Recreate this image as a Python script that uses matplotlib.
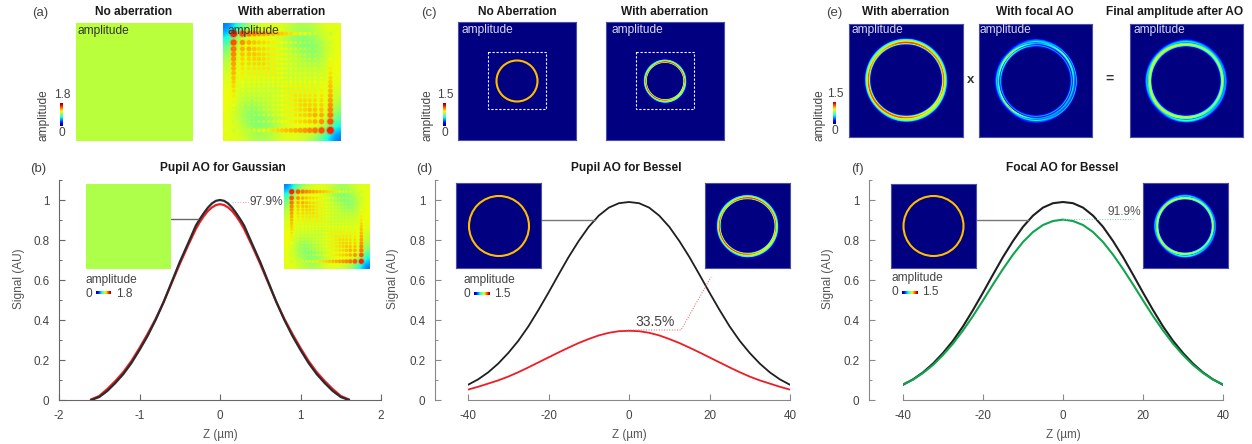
import numpy as np
import matplotlib
matplotlib.use("Agg")
import matplotlib.pyplot as plt
from matplotlib.patches import Circle, Rectangle

plt.rcParams['font.family'] = ['Liberation Sans', 'DejaVu Sans']

W, H = 1252, 444

# Curves for z >= 0, the other side is the mirror
z_gauss = [0, .05, .1, .15, .2, .25, .3, .4, .5, .6, .7, .8, .9, 1, 1.1, 1.2, 1.3, 1.4, 1.5, 1.6]
gauss_black = [1.0, .996, .983, .962, .935, .905, .872, .78, .69, .59, .49, .40, .32, .25, .185, .13, .085, .045, .015, 0]
gauss_red = [.979, .975, .963, .945, .92, .89, .855, .77, .68, .585, .49, .405, .33, .26, .195, .14, .095, .055, .02, .003]

z_bessel = [0, 2.5, 5, 7.5, 10, 12.5, 15, 17.5, 20, 22.5, 25, 27.5, 30, 32.5, 35, 37.5, 40]
bessel_black = [.99, .984, .962, .922, .866, .795, .715, .627, .537, .450, .368, .296, .235, .182, .138, .103, .076]
bessel_red = [.346, .344, .336, .323, .305, .285, .262, .238, .213, .188, .163, .139, .117, .098, .082, .066, .052]
bessel_green = [.902, .895, .875, .84, .79, .727, .655, .578, .498, .42, .348, .282, .225, .175, .135, .102, .078]

# Pupil amplitude with aberration, coarse map
pupil_base = [
    [.42, .75, 1.0, 1.08, 1.12, 1.12, 1.04, 1.0, 1.04, 1.12, 1.12],
    [.70, 1.12, 1.16, 1.16, 1.14, 1.06, .92, .88, .95, 1.08, 1.14],
    [.90, 1.16, 1.10, 1.09, 1.09, 1.08, 1.02, .92, .90, 1.04, 1.14],
    [1.02, 1.16, 1.09, 1.07, 1.07, 1.07, 1.07, 1.02, .95, 1.06, 1.16],
    [1.08, 1.16, 1.08, 1.06, 1.06, 1.06, 1.06, 1.06, 1.07, 1.09, 1.16],
    [1.12, 1.12, 1.07, 1.06, 1.06, 1.06, 1.06, 1.06, 1.07, 1.12, 1.12],
    [1.16, 1.09, 1.07, 1.06, 1.06, 1.06, 1.06, 1.06, 1.08, 1.16, 1.08],
    [1.16, 1.06, .95, 1.02, 1.07, 1.07, 1.07, 1.07, 1.09, 1.16, 1.02],
    [1.14, 1.04, .90, .92, 1.02, 1.08, 1.09, 1.09, 1.10, 1.16, .90],
    [1.14, 1.08, .95, .88, .92, 1.06, 1.14, 1.16, 1.16, 1.12, .70],
    [1.12, 1.12, 1.04, 1.0, 1.04, 1.12, 1.12, 1.08, 1.0, .75, .42],
]
spot_pos = [.09, .165, .22, .265, .305, .345, .385, .425, .465, .5, .535, .575, .615, .655, .695, .735, .78, .835, .91]
spot_along = [1.58, 1.48, 1.42, 1.38, 1.35, 1.33, 1.31, 1.29, 1.27, 1.25, 1.23, 1.21, 1.19, 1.17, 1.15, 1.12, 1.1, 1.07, 1.05]
spot_row = [1, .92, .92, .92, .92, .92, .92, .92, .92, .92]

# Ring amplitude: rows = radial offset (px), columns = angle every 45 deg
ring_angles = [0, 45, 90, 135, 180, 225, 270, 315]
ring1_offs = [-3.5, -2.5, -1.5, -.5, .5, 1.5, 2.5, 3.5, 4.5, 5.5]
ring1 = [
    [0, 0, 0, 0, 0, 0, 0, 0],
    [.02, .02, .02, .02, .02, .02, .02, .02],
    [.3, .4, .5, .3, .4, .5, .5, .25],
    [1.0, 1.15, 1.2, 1.0, 1.1, 1.2, 1.1, .8],
    [1.25, 1.15, 1.3, 1.05, 1.25, 1.25, 1.25, 1.0],
    [.85, .82, .95, .8, .85, .95, .9, .9],
    [.72, .68, .78, .7, .7, .62, .8, .82],
    [.4, .4, .55, .45, .35, .3, .7, .65],
    [.04, .04, .12, .08, .04, .04, .3, .3],
    [0, 0, 0, 0, 0, 0, 0, 0],
]
ring2_offs = [-3, -2, -1, 0, 1, 2, 3, 4, 5, 6]
ring2 = [
    [0, 0, 0, 0, 0, 0, 0, 0],
    [.2, .2, .2, .3, .2, .2, .2, .2],
    [.5, .42, .48, .7, .5, .42, .48, .5],
    [.22, .18, .2, .42, .2, .22, .18, .22],
    [.6, .52, .48, 1.2, .62, 1.2, .48, .48],
    [.4, .9, .3, .62, .4, .62, .32, .4],
    [.22, .28, .62, .32, .55, .32, .65, .28],
    [.52, .48, .42, .18, .32, .18, .32, .55],
    [.1, .1, .38, .05, .1, .05, .32, .1],
    [0, 0, 0, 0, 0, 0, 0, 0],
]
ring3 = [
    [0, 0, 0, 0, 0, 0, 0, 0],
    [.2, .2, .2, .2, .2, .2, .2, .2],
    [.7, .55, .7, .55, .85, .55, .75, .55],
    [1.0, .8, 1.0, .9, 1.0, .85, .95, .85],
    [.7, .8, .75, 1.1, .6, 1.1, .8, .6],
    [.35, .55, .38, .65, .42, .65, .36, .48],
    [.45, .38, .6, .4, .52, .38, .7, .45],
    [.35, .28, .42, .24, .32, .24, .55, .38],
    [.06, .06, .25, .06, .06, .06, .28, .16],
    [0, 0, 0, 0, 0, 0, 0, 0],
]

fig = plt.figure(figsize=(W / 100, H / 100), dpi=100)
jet = plt.get_cmap('jet')
TXT = '#444444'
NAVY = jet(0.0)
BORDER = '#4a4fa8'
RING_COLOR = jet(.71)


def px_axes(x0, y0, x1, y1, **kw):
    return fig.add_axes([x0 / W, 1 - y1 / H, (x1 - x0) / W, (y1 - y0) / H], **kw)


def blank(ax):
    ax.set_xticks([])
    ax.set_yticks([])
    for s in ax.spines.values():
        s.set_visible(False)


def flat_image(box, value):
    ax = px_axes(*box)
    ax.imshow([[value]], cmap=jet, vmin=0, vmax=1.8, aspect='auto')
    blank(ax)
    return ax


def pupil_image(box):
    ax = px_axes(*box)
    ax.imshow(pupil_base, cmap=jet, vmin=0, vmax=1.8, aspect='auto',
              interpolation='bicubic', extent=(0, 1, 1, 0))
    blank(ax)
    scale = (box[2] - box[0]) / 118
    n = len(spot_pos)
    xs, ys, amps = [], [], []
    for i in range(n):
        for j in range(n):
            a, b = (i, j) if i + j <= n - 1 else (n - 1 - i, n - 1 - j)
            xs.append(spot_pos[j])
            ys.append(spot_pos[i])
            amps.append(spot_along[max(a, b)] * spot_row[min(a, b)])
    amps = np.array(amps)
    diam = (2.2 + np.clip(amps - 1, 0, None) * 8) * scale * .72
    ax.scatter(xs, ys, s=(diam * 1.35) ** 2, c=amps * .95, cmap=jet, vmin=0, vmax=1.8, lw=0, alpha=.35)
    ax.scatter(xs, ys, s=diam ** 2, c=amps, cmap=jet, vmin=0, vmax=1.8, lw=0)
    ax.set_xlim(0, 1)
    ax.set_ylim(1, 0)
    return ax


def dark_image(box):
    ax = px_axes(box[0], box[1], box[2], box[3])
    ax.set_facecolor(NAVY)
    ax.set_xlim(box[0], box[2])
    ax.set_ylim(box[3], box[1])
    ax.set_xticks([])
    ax.set_yticks([])
    for s in ax.spines.values():
        s.set_color(BORDER)
        s.set_linewidth(.8)
    return ax


def plain_ring(ax, cx, cy, r, lw):
    ax.add_patch(Circle((cx, cy), r, fill=False, ec=RING_COLOR, lw=lw))


def table_ring(ax, table, offs, cx, cy, r0, wscale=1.0):
    # fine polar mesh so colours pass through the colormap, not straight in RGB
    fine = np.arange(0, 361, 3)
    by_angle = np.array([np.interp(fine, ring_angles, row, period=360) for row in table])
    off_fine = np.linspace(offs[0], offs[-1], 4 * (len(offs) - 1) + 1)
    vals = np.array([np.interp(off_fine, offs, by_angle[:, k]) for k in range(len(fine))]).T
    rad = r0 + off_fine * wscale
    xx = cx + np.outer(rad, np.cos(np.radians(fine)))
    yy = cy - np.outer(rad, np.sin(np.radians(fine)))
    ax.pcolormesh(xx, yy, vals, cmap=jet, vmin=0, vmax=1.5, shading='gouraud')


def v_cbar(x0, y0, x1, y1):
    ax = px_axes(x0, y0, x1, y1)
    ax.imshow(np.linspace(1, 0, 64)[:, None], cmap=jet, aspect='auto')
    blank(ax)


def h_cbar(x0, y0, x1, y1):
    ax = px_axes(x0, y0, x1, y1)
    ax.imshow(np.linspace(0, 1, 64)[None, :], cmap=jet, aspect='auto')
    blank(ax)


def curve_axes(x0, x1, spine_x, xlim, xticks, xlabels, side_color):
    ax = px_axes(x0, 180, x1, 400)
    ax.set_xlim(*xlim)
    ax.set_ylim(0, 1.1)
    ax.patch.set_alpha(0)
    ax.spines['top'].set_visible(False)
    ax.spines['right'].set_visible(False)
    ax.spines['left'].set_position(('outward', (x0 - spine_x) * .72))
    ax.spines['left'].set_color(side_color)
    ax.spines['bottom'].set_color(side_color)
    ax.set_xticks(xticks)
    ax.set_xticklabels(xlabels)
    ax.set_yticks([0, .2, .4, .6, .8, 1])
    ax.set_yticklabels(['0', '0.2', '0.4', '0.6', '0.8', '1'])
    ax.set_yticks(np.arange(0, 1.11, .1), minor=True)
    ax.tick_params(axis='both', which='major', direction='in', length=4, width=.8,
                   color=side_color, labelcolor=TXT, labelsize=8.4)
    ax.tick_params(axis='x', pad=7.5)
    ax.tick_params(axis='y', pad=7)
    ax.tick_params(axis='y', which='minor', direction='in', length=2.5, width=.7, color=side_color)
    ax.set_xlabel('Z (µm)', fontsize=8.4, color='#555555', labelpad=5)
    return ax


def mirror(a, sign=1):
    a = np.array(a, dtype=float)
    return np.r_[sign * a[:0:-1], a]


# top row images
flat_image((76, 23, 193, 141), 1.04)
pupil_image((223, 23, 341, 141))

c1 = dark_image((458, 22, 576, 140))
plain_ring(c1, 517, 81, 20.5, 1.5)
c1.add_patch(Rectangle((488, 52), 57.5, 57.5, fill=False, ec='white', ls=(0, (2, 1.6)), lw=.8))
c2 = dark_image((606, 22, 724, 140))
table_ring(c2, ring1, ring1_offs, 665, 81, 19.8, .62)
c2.add_patch(Rectangle((636, 52), 57.5, 57.5, fill=False, ec='white', ls=(0, (2, 1.6)), lw=.8))

e1 = dark_image((849, 24, 963, 137))
table_ring(e1, ring1, ring1_offs, 906, 80, 38)
e2 = dark_image((979, 24, 1092, 137))
table_ring(e2, ring2, ring2_offs, 1036, 81, 37)
e3 = dark_image((1130, 24, 1243, 137))
table_ring(e3, ring3, ring2_offs, 1186, 81, 37)

v_cbar(60, 103, 63, 126)
v_cbar(443, 103, 446, 126)
v_cbar(833, 102, 836, 124)

# curves
ax_b = curve_axes(59, 381, 59, (-2, 2), [-2, -1, 0, 1, 2], ['-2', '-1', '0', '1', '2'], '#666666')
ax_b.plot(mirror(z_gauss, -1), mirror(gauss_red), color='#ee1c25', lw=1.6)
ax_b.plot(mirror(z_gauss, -1), mirror(gauss_black), color='#2b2b2b', lw=1.6)

ax_d = curve_axes(468, 790, 435, (-40, 40), [-40, -20, 0, 20, 40], ['-40', '-20', '0', '20', '40'], '#888888')
ax_d.plot(mirror(z_bessel, -1), mirror(bessel_black), color='#1f1f1f', lw=1.3)
ax_d.plot(mirror(z_bessel, -1), mirror(bessel_red), color='#ee1c25', lw=1.3)

ax_f = curve_axes(903, 1223, 869, (-40, 40), [-40, -20, 0, 20, 40], ['-40', '-20', '0', '20', '40'], '#888888')
ax_f.plot(mirror(z_bessel, -1), mirror(bessel_black), color='#1f1f1f', lw=1.5)
ax_f.plot(mirror(z_bessel, -1), mirror(bessel_green), color='#10a44f', lw=1.5)

# overlay in pixel coordinates for the callouts and labels
ov = fig.add_axes([0, 0, 1, 1])
ov.set_xlim(0, W)
ov.set_ylim(H, 0)
ov.axis('off')
ov.patch.set_alpha(0)

ov.plot([171, 198], [219, 219], color='#666666', lw=1)
ov.plot([541, 595], [220, 220], color='#777777', lw=1)
ov.plot([976, 1028], [220, 220], color='#777777', lw=1)
ov.plot([232, 249], [202, 202], color='#f3a0a0', lw=.7, ls=':')
ov.plot([628, 681, 711], [330, 330, 277], color='#ee5555', lw=.7, ls=':')
ov.plot([1063, 1133], [219, 219], color='#7fcfa5', lw=.7, ls=':')

# inset images drawn after the curves
flat_image((86, 184, 171, 269), 1.01)
pupil_image((284, 184, 369, 269))
d1 = dark_image((456, 183, 541, 268))
plain_ring(d1, 499, 226, 30, 1.5)
d2 = dark_image((705, 183, 790, 268))
table_ring(d2, ring1, ring1_offs, 747.5, 226, 28.7, .75)
f1 = dark_image((891, 184, 976, 268))
plain_ring(f1, 933.5, 226, 30, 1.5)
f2 = dark_image((1143, 183, 1228, 268))
table_ring(f2, ring3, ring2_offs, 1185, 226, 28.5, .75)
h_cbar(96, 291, 111, 294)
h_cbar(474, 292, 490, 295)
h_cbar(902, 291, 918, 294)

# text overlay on top of every image
top = fig.add_axes([0, 0, 1, 1], zorder=10)
top.set_xlim(0, W)
top.set_ylim(H, 0)
top.axis('off')
top.patch.set_alpha(0)


def label(x, y, s, ha='left', color=TXT, size=8.6, **kw):
    top.text(x, y, s, ha=ha, va='center', color=color, fontsize=size, **kw)


titles = [
    (134, 12, 'No aberration'), (282, 12, 'With aberration'),
    (517, 12, 'No Aberration'), (665, 12, 'With aberration'),
    (906, 12, 'With aberration'), (1035, 12, 'With focal AO'),
    (1175, 12, 'Final amplitude after AO'),
    (223, 168, 'Pupil AO for Gaussian'), (626, 168, 'Pupil AO for Bessel'),
    (1062, 168, 'Focal AO for Bessel'),
]
for x, y, s in titles:
    label(x, y, s, ha='center', color='#1a1a1a', size=8.6, fontweight='bold')

panels = [(32, 13, '(a)'), (30, 169, '(b)'), (421, 13, '(c)'), (416, 169, '(d)'), (826, 13, '(e)'), (851, 169, '(f)')]
for x, y, s in panels:
    label(x, y, s, size=9.5)

for x in (77, 227):
    label(x, 31, 'amplitude', color='#333333')
for x in (462, 612, 851, 980, 1133):
    label(x, 30, 'amplitude', color='#d8d8f0')

# vertical colorbar labels
for x, rot_x, hi, y_hi, y_lo in [(62, 44, '1.8', 95, 133), (445, 427, '1.5', 95, 133), (835, 820, '1.5', 94, 131)]:
    label(x, y_hi, hi, ha='center')
    label(x, y_lo, '0', ha='center')
    label(rot_x, 115, 'amplitude', ha='center', rotation=90)

# horizontal colorbar labels
for x, y, hi, x_hi in [(86, 280, '1.8', 116), (463, 280, '1.5', 494), (892, 278, '1.5', 922)]:
    label(x, y, 'amplitude')
    label(x, y + 14, '0')
    label(x_hi, y + 14, hi)

label(249, 202, '97.9%')
label(635, 322, '33.5%', size=10)
label(1107, 212, '91.9%', color='#555555')
label(971, 80, 'x', ha='center', color='#333333', size=9.5, fontweight='bold')
label(1110, 79, '=', ha='center', color='#333333', size=10, fontweight='bold')

for x in (19, 393, 828):
    label(x, 279, 'Signal (AU)', ha='center', rotation=90, color='#555555')

fig.savefig('out.png', dpi=100)
